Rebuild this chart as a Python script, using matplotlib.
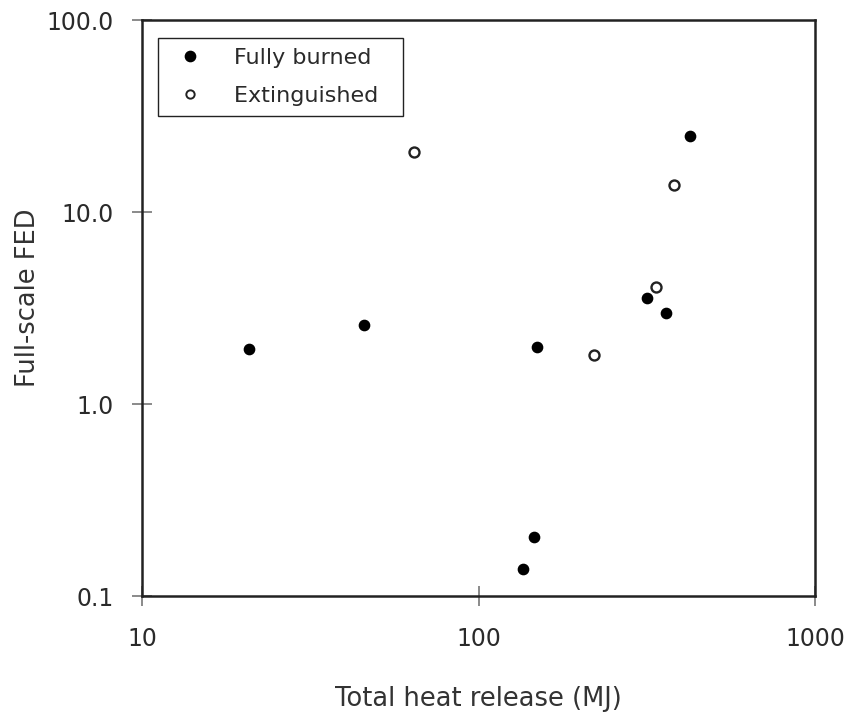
import matplotlib
matplotlib.use("Agg")
import matplotlib.pyplot as plt
from matplotlib.lines import Line2D

# Data
burned_x = [20.8, 45.7, 149, 146, 135.5, 317, 361, 424]
burned_y = [1.93, 2.58, 1.98, 0.203, 0.138, 3.56, 2.98, 25.0]
ext_x = [64.3, 220, 337, 381]
ext_y = [20.5, 1.79, 4.07, 13.8]

x_ticks = [10, 100, 1000]
x_ticklabels = ["10", "100", "1000"]
y_ticks = [0.1, 1, 10, 100]
y_ticklabels = ["0.1", "1.0", "10.0", "100.0"]
legend_labels = ["Fully burned", "Extinguished"]

plt.rcParams['font.family'] = ['DejaVu Sans']

fig = plt.figure(figsize=(8.52, 7.15), dpi=100)
ax = fig.add_axes([142/852, 1-596/715, (815-142)/852, (596-20)/715])

ax.plot(burned_x, burned_y, linestyle='none', marker='o', markersize=7.4,
        markerfacecolor='black', markeredgecolor='black', label=legend_labels[0])
ax.plot(ext_x, ext_y, linestyle='none', marker='o', markersize=7.2,
        markerfacecolor='white', markeredgecolor='#222222', markeredgewidth=1.7,
        label=legend_labels[1])

ax.set_xscale('log')
ax.set_yscale('log')
ax.set_xlim(10, 1000)
ax.set_ylim(0.1, 100)
ax.set_xticks(x_ticks)
ax.set_xticklabels(x_ticklabels)
ax.set_yticks(y_ticks)
ax.set_yticklabels(y_ticklabels)
ax.minorticks_off()

for s in ax.spines.values():
    s.set_linewidth(1.8)
    s.set_color('#222222')

ax.tick_params(axis='both', which='major', direction='inout', length=14,
               width=1.2, color='#777777', labelsize=17, labelcolor='#2a2a2a')
ax.tick_params(axis='x', pad=15.5)
ax.tick_params(axis='y', pad=13.5)

ax.set_xlabel('Total heat release (MJ)', fontsize=18.5, color='#333333')
ax.set_ylabel('Full-scale FED', fontsize=18.5, color='#333333')
ax.xaxis.set_label_coords(0.5, (596-686)/576)
ax.yaxis.set_label_coords((41-142)/673, (596-298)/576)

handles = [
    Line2D([], [], linestyle='none', marker='o', markersize=7.4,
           markerfacecolor='black', markeredgecolor='black'),
    Line2D([], [], linestyle='none', marker='o', markersize=6.0,
           markerfacecolor='white', markeredgecolor='#222222', markeredgewidth=1.4),
]
leg = ax.legend(handles, [legend_labels[0], legend_labels[1] + "  "], loc='upper left',
                bbox_to_anchor=((158-142)/673, 1-(38-20)/576),
                borderaxespad=0, fancybox=False, framealpha=1,
                edgecolor='#222222', fontsize=16, handlelength=2.0,
                handletextpad=0.98, borderpad=0.45, labelspacing=0.8)
leg.get_frame().set_linewidth(1.0)
for t in leg.get_texts():
    t.set_color('#2a2a2a')

fig.savefig('out.png', dpi=100)
